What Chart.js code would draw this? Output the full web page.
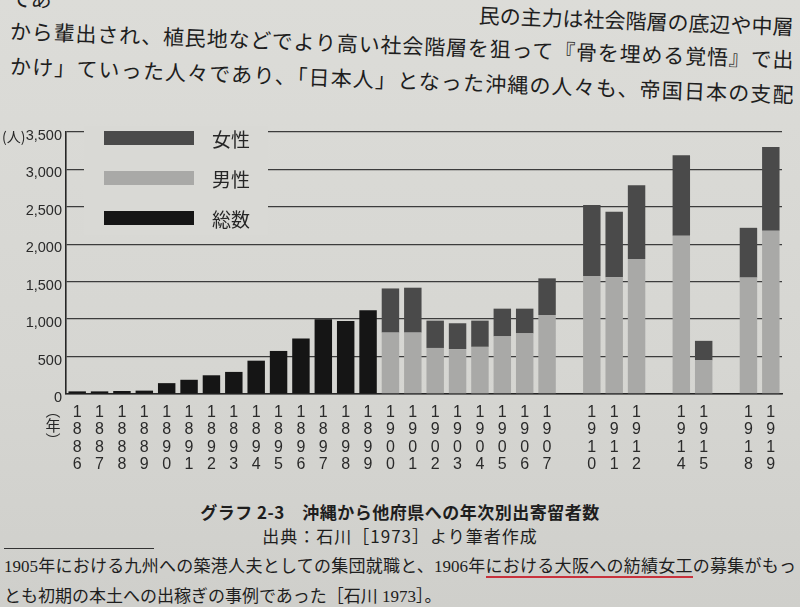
<!DOCTYPE html>
<html lang="ja">
<head>
<meta charset="utf-8">
<script src="https://cdn.jsdelivr.net/npm/chart.js@4.4.1/dist/chart.umd.min.js"></script>
<style>
  html, body { margin: 0; padding: 0; }
  body {
    width: 800px; height: 607px; overflow: hidden; position: relative;
    background: linear-gradient(180deg, #dcdcd8 0%, #d6d6d2 60%, #cfcfcb 100%);
    font-family: "Liberation Serif", "Noto Sans CJK JP", serif;
    color: #1e1e1e;
  }
  .row { position: absolute; left: 10px; width: 784px; white-space: nowrap; }
  .top { font-size: 21px; line-height: 26px; transform-origin: 0 50%; transform: rotate(2.1deg); }
  .just { text-align: justify; text-align-last: justify; white-space: normal; height: 26px; overflow: hidden; }
  .split { display: flex; justify-content: space-between; }
  #chartBox { position: absolute; left: 0; top: 110px; width: 800px; height: 370px; }
  .cap { position: absolute; left: 0; width: 800px; text-align: center; font-family: "Noto Sans CJK JP", sans-serif; }
  .foot { font-size: 17px; line-height: 22px; }
  .pen { border-bottom: 2px solid #c8323c; }
  .rule { position: absolute; left: 4px; top: 548px; width: 150px; height: 1px; background: #333; }
</style>
</head>
<body>
<div class="row top split" style="top:-14px"><span>であ</span><span>民の主力は社会階層の底辺や中層</span></div>
<div class="row top just" style="top:19px">から輩出され、植民地などでより高い社会階層を狙って『骨を埋める覚悟』で出</div>
<div class="row top just" style="top:54px">かけ」ていった人々であり、「日本人」となった沖縄の人々も、帝国日本の支配</div>

<div id="chartBox"><canvas id="chart" width="800" height="370"></canvas></div>

<div class="cap" style="top:499px;font-size:17px;font-weight:700;letter-spacing:0.5px">グラフ 2-3　沖縄から他府県への年次別出寄留者数</div>
<div class="cap" style="top:523px;font-size:17px;letter-spacing:1px">出典：石川［1973］より筆者作成</div>
<div class="rule"></div>
<div class="row foot just" style="top:556px;left:4px;width:792px;height:22px">1905年における九州への築港人夫としての集団就職と、1906年<span class="pen">における大阪への紡績女工</span>の募集がもっ</div>
<div class="row foot" style="top:586px;left:4px">とも初期の本土への出稼ぎの事例であった［石川 1973］。</div>

<script>
// years on the x axis; '' marks the empty slots where the source has no year
const years = [
    '1886', '1887', '1888', '1889', '1890', '1891', '1892', '1893', '1894', '1895',
    '1896', '1897', '1898', '1899', '1900', '1901', '1902', '1903', '1904', '1905',
    '1906', '1907', '', '1910', '1911', '1912', '', '1914', '1915', '', '1918', '1919',
];
// 総数 (only the years before the split by sex)
const totalCount = [
    35, 35, 40, 45, 145, 190, 250, 295, 445, 575,
    740, 1000, 975, 1120, null, null, null, null, null, null,
    null, null, null, null, null, null, null, null, null, null, null, null,
];
// 男性
const maleCount = [
    null, null, null, null, null, null, null, null, null, null,
    null, null, null, null, 820, 820, 615, 600, 630, 770,
    810, 1055, null, 1575, 1560, 1805, null, 2115, 450, null, 1555, 2180,
];
// 女性
const femaleCount = [
    null, null, null, null, null, null, null, null, null, null,
    null, null, null, null, 590, 600, 365, 345, 350, 370,
    330, 490, null, 950, 875, 985, null, 1075, 260, null, 665, 1120,
];
const yTicks = [0, 500, 1000, 1500, 2000, 2500, 3000, 3500];

const PAPER = '#d9d9d5';
const INK = '#262626';
const SANS = '"Liberation Sans", "DejaVu Sans", sans-serif';
const CJK = '"Noto Sans CJK JP", sans-serif';

const SERIES = [
    { label: '総数', data: totalCount,  color: '#151515' },
    { label: '男性', data: maleCount,   color: '#a9a9a7' },
    { label: '女性', data: femaleCount, color: '#4a4a4a' },
];

// legend box sits on top of the upper grid lines, like in the book
const paperLegend = {
    id: 'paperLegend',
    beforeDatasetsDraw(chart) {
        const { ctx, scales: { y } } = chart;
        const top = y.getPixelForValue(yTicks[yTicks.length - 1]) - 6;
        const bottom = y.getPixelForValue(2000) - 9;
        ctx.save();
        ctx.fillStyle = PAPER;
        ctx.fillRect(84, top, 184, bottom - top);
        const order = ['女性', '男性', '総数'];
        order.forEach((name, i) => {
            const s = SERIES.find(d => d.label === name);
            const sy = top + 5 + i * 40;
            ctx.fillStyle = s.color;
            ctx.fillRect(104, sy, 90, 14);
            ctx.fillStyle = INK;
            ctx.font = `19px ${CJK}`;
            ctx.textBaseline = 'middle';
            ctx.textAlign = 'left';
            ctx.fillText(name, 212, sy + 9);
        });
        ctx.restore();
    },
    afterDraw(chart) {
        const { ctx, scales: { x, y } } = chart;
        ctx.save();
        ctx.fillStyle = INK;
        ctx.textBaseline = 'middle';
        ctx.font = `14px ${CJK}`;
        ctx.textAlign = 'left';
        ctx.fillText('(人)', 2, y.getPixelForValue(3500) + 5);
        // vertical (年) under the axis corner
        ctx.textAlign = 'center';
        ctx.font = `15px ${CJK}`;
        ['︵', '年', '︶'].forEach((c, i) => ctx.fillText(c, 53, x.top + 16 + i * 15));
        ctx.restore();
    },
};

new Chart(document.getElementById('chart'), {
    type: 'bar',
    data: {
        labels: years.map(yr => (yr ? yr.split('') : '')),
        datasets: SERIES.map(s => ({
            label: s.label,
            data: s.data,
            backgroundColor: s.color,
            borderWidth: 0,
            barPercentage: 0.78,
            categoryPercentage: 1,
        })),
    },
    options: {
        responsive: false,
        animation: false,
        layout: { padding: { top: 22, right: 18, left: 0, bottom: 0 } },
        plugins: { legend: { display: false }, tooltip: { enabled: false } },
        scales: {
            x: {
                stacked: true,
                grid: { display: false },
                border: { color: INK, width: 1.6 },
                ticks: {
                    color: '#2a2a2a', autoSkip: false, maxRotation: 0, padding: 2,
                    font: { family: SANS, size: 16, lineHeight: 1.08 },
                },
                afterFit: s => { s.height = 86; },
            },
            y: {
                stacked: true,
                min: 0, max: 3500,
                ticks: {
                    stepSize: 500, padding: 4, color: '#2a2a2a', labelOffset: 4,
                    font: { family: SANS, size: 14.5 },
                    callback: v => v.toLocaleString('en-US'),
                },
                grid: { color: '#3c3c3c', lineWidth: 1.3, drawTicks: false },
                border: { color: INK, width: 1.6 },
                afterFit: s => { s.width = 66; },
            },
        },
    },
    plugins: [paperLegend],
});
</script>
</body>
</html>
